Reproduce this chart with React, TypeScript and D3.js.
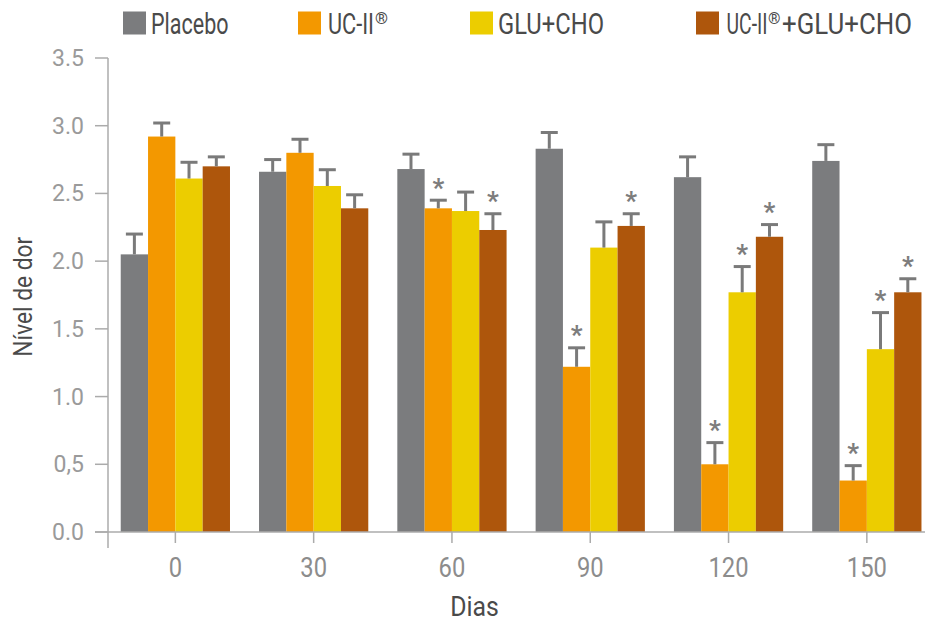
import React from "react";
import * as d3 from "d3";

const days = ["0", "30", "60", "90", "120", "150"];
const seriesColors = ["#7b7c7e", "#f39800", "#eccd00", "#ae560c"];

const placebo = [2.05, 2.66, 2.68, 2.83, 2.62, 2.74];
const placeboErr = [0.15, 0.09, 0.11, 0.12, 0.15, 0.12];
const uc2 = [2.92, 2.8, 2.39, 1.22, 0.5, 0.38];
const uc2Err = [0.1, 0.1, 0.06, 0.14, 0.16, 0.11];
const gluCho = [2.61, 2.555, 2.37, 2.1, 1.77, 1.35];
const gluChoErr = [0.12, 0.12, 0.14, 0.19, 0.19, 0.27];
const combo = [2.7, 2.39, 2.23, 2.26, 2.18, 1.77];
const comboErr = [0.07, 0.1, 0.12, 0.09, 0.09, 0.1];

const placeboSig = [false, false, false, false, false, false];
const uc2Sig = [false, false, true, true, true, true];
const gluChoSig = [false, false, false, false, true, true];
const comboSig = [false, false, true, true, true, true];

const yTicks = [0, 0.5, 1, 1.5, 2, 2.5, 3, 3.5];
const yTickLabels = ["0.0", "0,5", "1.0", "1.5", "2.0", "2.5", "3.0", "3.5"];

const values = [placebo, uc2, gluCho, combo];
const errors = [placeboErr, uc2Err, gluChoErr, comboErr];
const sigs = [placeboSig, uc2Sig, gluChoSig, comboSig];

// legend label pieces: [text, isSuperscript]
const legendLabels: [string, boolean][][] = [
  [["Placebo", false]],
  [["UC-II", false], ["®", true]],
  [["GLU+CHO", false]],
  [["UC-II", false], ["®", true], ["+GLU+CHO", false]],
];

const W = 925;
const H = 621;

export default function App() {
  const y = d3.scaleLinear().domain([0, 3.5]).range([532, 58]);
  const x0 = d3
    .scaleBand<string>()
    .domain(days)
    .range([106.9, 935.3])
    .paddingInner(0.21)
    .paddingOuter(0.1);
  const x1 = d3
    .scaleBand<number>()
    .domain([0, 1, 2, 3])
    .range([0, x0.bandwidth()])
    .padding(0);

  const axisColor = "#ababab";
  const errColor = "#7a7a7a";
  const base = y(0);

  // layout of legend: square x, piece x positions and widths
  const legendLayout = [
    { sq: 123, pieces: [{ x: 151, w: 77.5 }] },
    { sq: 298, pieces: [{ x: 328, w: 46 }, { x: 375, w: 13 }] },
    { sq: 470, pieces: [{ x: 498, w: 106 }] },
    {
      sq: 696,
      pieces: [
        { x: 726.5, w: 41 },
        { x: 768, w: 12.5 },
        { x: 782, w: 130 },
      ],
    },
  ];

  return (
    <svg
      width={W}
      height={H}
      style={{ position: "absolute", left: 0, top: 0, background: "#fff" }}
      fontFamily="Roboto, 'Noto Sans', sans-serif"
    >
      {/* legend */}
      {legendLabels.map((pieces, i) => (
        <g key={i}>
          <rect x={legendLayout[i].sq} y={11.5} width={23} height={23} fill={seriesColors[i]} />
          {pieces.map(([txt, sup], j) => (
            <text
              key={j}
              x={legendLayout[i].pieces[j].x}
              y={sup ? 24 : 34}
              fontSize={sup ? 17 : 30}
              fill="#4a4a4a"
              textLength={legendLayout[i].pieces[j].w}
              lengthAdjust="spacingAndGlyphs"
            >
              {txt}
            </text>
          ))}
        </g>
      ))}

      {/* bars */}
      {days.map((d, di) => (
        <g key={d} transform={`translate(${x0(d)},0)`}>
          {values.map((vals, si) => {
            const bx = x1(si) as number;
            const bw = x1.bandwidth();
            const v = vals[di];
            const top = y(v);
            const cap = y(v + errors[si][di]);
            const cx = bx + bw / 2;
            return (
              <g key={si}>
                <rect x={bx} y={top} width={bw} height={base - top} fill={seriesColors[si]} />
                <line x1={cx} x2={cx} y1={top} y2={cap} stroke={errColor} strokeWidth={3} />
                <line x1={cx - 8.5} x2={cx + 8.5} y1={cap} y2={cap} stroke={errColor} strokeWidth={3} />
                {sigs[si][di] && (
                  <text
                    x={cx}
                    y={cap - 3.5}
                    textAnchor="middle"
                    fontSize={26}
                    fontWeight="bold"
                    fill="#7d7d7d"
                  >
                    *
                  </text>
                )}
              </g>
            );
          })}
        </g>
      ))}

      {/* y axis */}
      <line x1={108} x2={108} y1={y(3.5)} y2={548} stroke={axisColor} strokeWidth={1.5} />
      {yTicks.map((t, i) => (
        <g key={t}>
          <line x1={95} x2={108} y1={y(t)} y2={y(t)} stroke={axisColor} strokeWidth={1.5} />
          <text x={84} y={y(t) + 8} textAnchor="end" fontSize={23} fill="#9a9a9a">
            {yTickLabels[i]}
          </text>
        </g>
      ))}

      {/* x axis */}
      <line x1={95} x2={925} y1={base} y2={base} stroke={axisColor} strokeWidth={1.5} />
      {days.map((d) => {
        const cx = (x0(d) as number) + x0.bandwidth() / 2;
        return (
          <g key={d}>
            <line x1={cx} x2={cx} y1={base} y2={base + 11} stroke={axisColor} strokeWidth={1.5} />
            <text
              transform={`translate(${cx},577) scale(0.88,1)`}
              textAnchor="middle"
              fontSize={27}
              fill="#8c8c8c"
            >
              {d}
            </text>
          </g>
        );
      })}

      {/* axis titles */}
      <text
        transform="translate(474.5,616) scale(0.92,1)"
        textAnchor="middle"
        fontSize={27}
        fill="#4a4a4a"
      >
        Dias
      </text>
      <text
        transform="translate(31.5,296.7) rotate(-90) scale(0.91,1)"
        textAnchor="middle"
        fontSize={25}
        fill="#4a4a4a"
      >
        Nível de dor
      </text>
    </svg>
  );
}
